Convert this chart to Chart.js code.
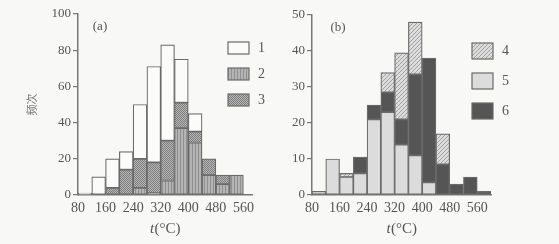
<!DOCTYPE html>
<html>
<head>
<meta charset="utf-8">
<script src="https://cdn.jsdelivr.net/npm/chart.js@4"></script>
<style>
  html, body { margin: 0; padding: 0; background: #f8f8f6; }
  #wrap { position: relative; width: 559px; height: 244px; }
  #boxA { position: absolute; left: 0; top: 0; width: 280px; height: 244px; }
  #boxB { position: absolute; left: 280px; top: 0; width: 279px; height: 244px; }
</style>
</head>
<body>
<div id="wrap">
  <div id="boxA"><canvas id="chartA"></canvas></div>
  <div id="boxB"><canvas id="chartB"></canvas></div>
</div>
<script>
// (a) bins start (°C), 40 wide
const binsA = [80, 120, 160, 200, 240, 280, 320, 360, 400, 440, 480, 520];
const valsA1 = [1, 10, 16, 10, 30, 53, 53, 24, 10, 0, 0, 0];
const valsA2 = [0, 0, 0, 0, 4, 1, 8, 37, 29, 11, 6, 11];
const valsA3 = [0, 0, 4, 14, 16, 17, 22, 14, 6, 9, 5, 0];

// (b)
const binsB = [80, 120, 160, 200, 240, 280, 320, 360, 400, 440, 480, 520, 560];
const valsB4 = [0, 0, 1, 0, 0, 5.5, 18.5, 14.5, 0, 8.5, 0, 0, 0];
const valsB5 = [1, 10, 5, 6, 21, 23, 14, 11, 3.5, 0, 0, 0, 0];
const valsB6 = [0, 0, 0, 4.5, 4, 5.5, 7, 22.5, 34.5, 8.5, 3, 5, 1];

const xTicks = [80, 160, 240, 320, 400, 480, 560];
const yTicksA = [0, 20, 40, 60, 80, 100];
const yTicksB = [0, 10, 20, 30, 40, 50];
const binWidth = 40;

const INK = '#555';
const AXIS = '#777';
const EDGE = '#6a6a6a';
const SERIF = '"Liberation Serif", "DejaVu Serif", serif';

function makePattern(w, h, base, draw) {
  const c = document.createElement('canvas');
  c.width = w; c.height = h;
  const g = c.getContext('2d');
  g.fillStyle = base;
  g.fillRect(0, 0, w, h);
  draw(g);
  return g.createPattern(c, 'repeat');
}

const FILLS = {
  white: '#fbfbfa',
  vstripe: makePattern(3, 3, '#b4b4b4', g => { g.fillStyle = '#909090'; g.fillRect(0, 0, 1, 3); }),
  checker: makePattern(2, 2, '#b6b6b6', g => {
    g.fillStyle = '#7e7e7e'; g.fillRect(0, 0, 1, 1); g.fillRect(1, 1, 1, 1);
  }),
  hatch: makePattern(4, 4, '#dcdcdc', g => {
    g.fillStyle = '#a2a2a2';
    for (let i = 0; i < 4; i++) g.fillRect(3 - i, i, 1, 1);
  }),
  light: '#dcdcdc',
  dark: '#555555'
};

function toPoints(bins, vals) {
  return bins.map((b, i) => ({ x: b + binWidth / 2, y: vals[i] === 0 ? null : vals[i] }));
}

function ds(label, bins, vals, fill) {
  return {
    label: label,
    data: toPoints(bins, vals),
    backgroundColor: fill,
    borderColor: EDGE,
    borderWidth: 1.2,
    borderSkipped: false,
    barPercentage: 1,
    categoryPercentage: 1
  };
}

// legend boxes, panel letter and the t(°C) axis name
const panelDecor = {
  id: 'panelDecor',
  afterDatasetsDraw(chart, args, opts) {
    const ctx = chart.ctx;
    const area = chart.chartArea;
    ctx.save();
    ctx.font = '13px ' + SERIF;
    ctx.fillStyle = INK;
    ctx.textBaseline = 'middle';
    ctx.textAlign = 'center';
    ctx.fillText(opts.tag, area.left + opts.tagDx, area.top + 13);

    // x axis name, italic t
    const italic = 'italic 15px ' + SERIF, upright = '15px ' + SERIF;
    ctx.font = italic;
    const wT = ctx.measureText('t').width;
    ctx.font = upright;
    const wU = ctx.measureText('(°C)').width;
    const x0 = (area.left + area.right) / 2 - (wT + wU) / 2;
    ctx.textAlign = 'left';
    ctx.font = italic;
    ctx.fillText('t', x0, 229);
    ctx.font = upright;
    ctx.fillText('(°C)', x0 + wT + 0.5, 229);

    opts.order.forEach((idx, k) => {
      const d = chart.data.datasets[idx];
      const x = area.right + opts.boxDx;
      const y = area.top + opts.boxDy + k * opts.gap;
      ctx.fillStyle = d.backgroundColor;
      ctx.fillRect(x, y, opts.boxW, opts.boxH);
      ctx.strokeStyle = EDGE;
      ctx.lineWidth = 1.2;
      ctx.strokeRect(x, y, opts.boxW, opts.boxH);
      ctx.fillStyle = INK;
      ctx.font = '14px ' + SERIF;
      ctx.fillText(d.label, x + opts.boxW + 9, y + opts.boxH / 2);
    });
    ctx.restore();
  }
};

function buildChart(id, datasets, yTicks, setup) {
  return new Chart(document.getElementById(id), {
    type: 'bar',
    data: { datasets: datasets },
    plugins: [panelDecor],
    options: {
      responsive: true,
      maintainAspectRatio: false,
      animation: false,
      layout: { padding: setup.padding },
      plugins: {
        legend: { display: false },
        tooltip: { enabled: false },
        panelDecor: setup.decor
      },
      scales: {
        x: {
          type: 'linear',
          stacked: true,
          offset: false,
          min: 80,
          max: setup.xMax,
          afterBuildTicks: s => { s.ticks = xTicks.map(v => ({ value: v })); },
          afterFit: s => { s.height = 49; },
          grid: { display: false, drawTicks: false },
          border: { display: true, color: AXIS, width: 1.5 },
          ticks: { color: INK, font: { family: SERIF, size: 14 }, padding: 5, maxRotation: 0, autoSkip: false },
          title: { display: false }
        },
        y: {
          stacked: true,
          min: 0,
          max: yTicks[yTicks.length - 1],
          afterBuildTicks: s => { s.ticks = yTicks.map(v => ({ value: v })); },
          afterFit: s => { s.width = setup.yWidth; },
          grid: { display: true, drawOnChartArea: false, drawTicks: true, tickLength: 5, color: AXIS, lineWidth: 1.2 },
          border: { display: true, color: AXIS, width: 1.5 },
          ticks: { color: INK, font: { family: SERIF, size: 13 }, padding: 2 },
          title: {
            display: setup.yTitle !== '',
            text: setup.yTitle,
            color: '#777',
            font: { family: '"Noto Sans CJK SC", sans-serif', size: 11 },
            padding: { top: 25, bottom: 0 }
          }
        }
      }
    }
  });
}

buildChart('chartA', [
  ds('2', binsA, valsA2, FILLS.vstripe),
  ds('3', binsA, valsA3, FILLS.checker),
  ds('1', binsA, valsA1, FILLS.white)
], yTicksA, {
  padding: { top: 14, right: 28, bottom: 0, left: 0 },
  xMax: 585,
  yWidth: 78,
  yTitle: '频次',
  decor: { tag: '(a)', tagDx: 22, order: [2, 0, 1], boxDx: -24, boxDy: 28, gap: 26, boxW: 21, boxH: 12 }
});

buildChart('chartB', [
  ds('5', binsB, valsB5, FILLS.light),
  ds('6', binsB, valsB6, FILLS.dark),
  ds('4', binsB, valsB4, FILLS.hatch)
], yTicksB, {
  padding: { top: 15, right: 68, bottom: 0, left: 0 },
  xMax: 600,
  yWidth: 32,
  yTitle: '',
  decor: { tag: '(b)', tagDx: 26, order: [2, 0, 1], boxDx: -19, boxDy: 28, gap: 30, boxW: 21, boxH: 16 }
});
</script>
</body>
</html>
